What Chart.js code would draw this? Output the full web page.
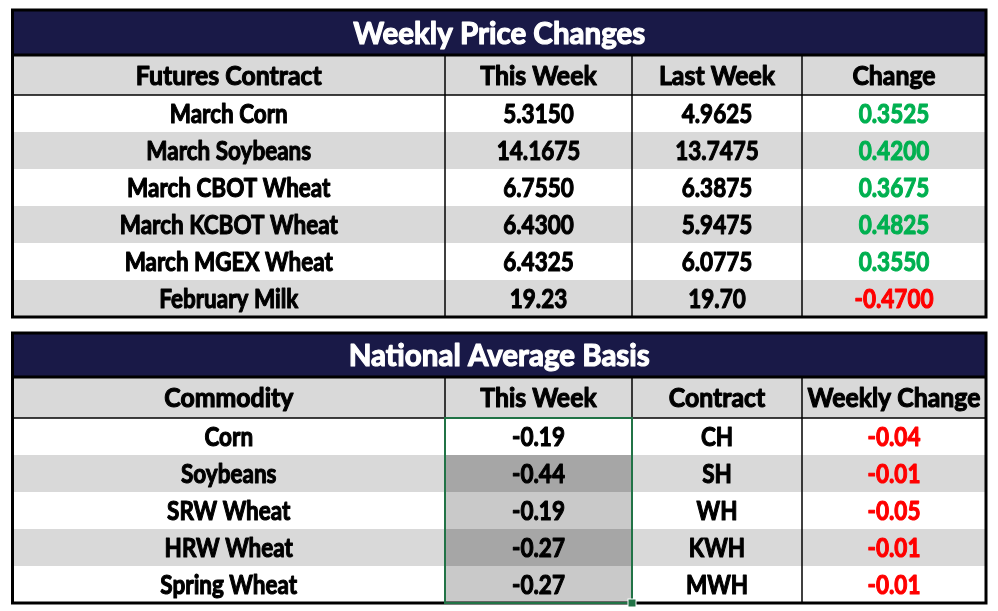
<!DOCTYPE html>
<html><head><meta charset="utf-8">
<script src="https://cdn.jsdelivr.net/npm/chart.js@4.4.1/dist/chart.umd.min.js"></script>
<style>html,body{margin:0;padding:0;background:#fff}#wrap{width:998px;height:611px;position:relative}</style>
</head><body><div id="wrap"><canvas id="c"></canvas></div>
<script>
// ---- data ----
const priceTitle = 'Weekly Price Changes';
const priceHeaders = ['Futures Contract', 'This Week', 'Last Week', 'Change'];
const priceContracts = ['March Corn', 'March Soybeans', 'March CBOT Wheat', 'March KCBOT Wheat', 'March MGEX Wheat', 'February Milk'];
const priceThisWeek = [5.3150, 14.1675, 6.7550, 6.4300, 6.4325, 19.23];
const priceLastWeek = [4.9625, 13.7475, 6.3875, 5.9475, 6.0775, 19.70];
const priceDecimals = [4, 4, 4, 4, 4, 2];
const priceChange = [0.3525, 0.4200, 0.3675, 0.4825, 0.3550, -0.4700];

const basisTitle = 'National Average Basis';
const basisHeaders = ['Commodity', 'This Week', 'Contract', 'Weekly Change'];
const basisCommodities = ['Corn', 'Soybeans', 'SRW Wheat', 'HRW Wheat', 'Spring Wheat'];
const basisThisWeek = [-0.19, -0.44, -0.19, -0.27, -0.27];
const basisContracts = ['CH', 'SH', 'WH', 'KWH', 'MWH'];
const basisChange = [-0.04, -0.01, -0.05, -0.01, -0.01];

// ---- layout & style (scale units) ----
const colEdges = [12.5, 445, 632, 802, 986];
const layout1 = { top: 10, titleH: 45, headerH: 40, rowH: 37 };
const layout2 = { top: 333, titleH: 44, headerH: 41, rowH: 37 };
const NAVY = '#191947', STRIPE = '#d9d9d9', GREEN = '#00b050', RED = '#ff0000', SEL = '#217346';
const basisShade = ['#ffffff', '#a6a6a6', '#c9c9c9', '#a6a6a6', '#c9c9c9'];
const FONT = 'Lato, "Open Sans", "Noto Sans", sans-serif';
const STYLES = {
  title: { size: 31, ref: 'Weekly Price Changes', w: 292, bold: 1.2 },
  head:  { size: 26, ref: 'Futures Contract', w: 186, bold: 1.1 },
  cell:  { size: 26, ref: 'March KCBOT Wheat', w: 218, bold: 1.1 }
};

const fmt = (v, d) => v.toFixed(d);
const table1Rows = priceContracts.map((c, i) => [
  { t: c }, { t: fmt(priceThisWeek[i], priceDecimals[i]) }, { t: fmt(priceLastWeek[i], priceDecimals[i]) },
  { t: fmt(priceChange[i], 4), color: priceChange[i] >= 0 ? GREEN : RED }
]);
const table2Rows = basisCommodities.map((c, i) => [
  { t: c }, { t: fmt(basisThisWeek[i], 2), fill: basisShade[i] }, { t: basisContracts[i] },
  { t: fmt(basisChange[i], 2), color: basisChange[i] >= 0 ? GREEN : RED }
]);

function setStyle(ctx, key) {
  const s = STYLES[key];
  ctx.font = `bold ${s.size}px ${FONT}`;
  if (!s.k) {
    s.k = s.w / ctx.measureText(s.ref).width;
    s.cap = ctx.measureText('H').actualBoundingBoxAscent;
  }
  return s;
}
function text(ctx, s, str, cx, cy, color) {
  ctx.save();
  ctx.translate(cx, cy + s.cap / 2);
  ctx.scale(s.k, 1);
  ctx.fillStyle = color; ctx.strokeStyle = color;
  ctx.lineWidth = s.bold; ctx.lineJoin = 'round';
  ctx.fillText(str, 0, 0);
  ctx.strokeText(str, 0, 0);
  ctx.restore();
}

function drawTable(chart, L, title, headers, rows, selectCol) {
  const ctx = chart.ctx, xs = chart.scales.x, ys = chart.scales.y;
  const X = v => xs.getPixelForValue(v), Y = v => ys.getPixelForValue(v);
  const x0 = X(colEdges[0]), x1 = X(colEdges[colEdges.length - 1]);
  const tTop = L.top, hTop = L.top + L.titleH, rTop = hTop + L.headerH;
  const bottom = rTop + rows.length * L.rowH;
  ctx.fillStyle = NAVY;
  ctx.fillRect(x0, Y(tTop), x1 - x0, Y(hTop) - Y(tTop));
  ctx.fillStyle = STRIPE;
  ctx.fillRect(x0, Y(hTop), x1 - x0, Y(rTop) - Y(hTop));
  rows.forEach((r, i) => {
    const a = Y(rTop + i * L.rowH), b = Y(rTop + (i + 1) * L.rowH);
    ctx.fillStyle = i % 2 === 0 ? '#ffffff' : STRIPE;
    ctx.fillRect(x0, a, x1 - x0, b - a);
    r.forEach((cell, j) => {
      if (cell.fill) {
        ctx.fillStyle = cell.fill;
        ctx.fillRect(X(colEdges[j]), a, X(colEdges[j + 1]) - X(colEdges[j]), b - a);
      }
    });
  });
  ctx.strokeStyle = '#000';
  ctx.lineWidth = 1.5;
  for (let j = 1; j < colEdges.length - 1; j++) {
    ctx.beginPath(); ctx.moveTo(X(colEdges[j]), Y(hTop)); ctx.lineTo(X(colEdges[j]), Y(bottom)); ctx.stroke();
  }
  ctx.beginPath(); ctx.moveTo(x0, Y(rTop)); ctx.lineTo(x1, Y(rTop)); ctx.stroke();
  ctx.lineWidth = 3;
  ctx.beginPath(); ctx.moveTo(x0, Y(hTop)); ctx.lineTo(x1, Y(hTop)); ctx.stroke();
  ctx.strokeRect(x0, Y(tTop), x1 - x0, Y(bottom) - Y(tTop));
  if (selectCol != null) {
    const sx0 = X(colEdges[selectCol]), sx1 = X(colEdges[selectCol + 1]);
    ctx.strokeStyle = SEL; ctx.lineWidth = 2;
    ctx.strokeRect(sx0, Y(rTop), sx1 - sx0, Y(bottom) - Y(rTop));
    ctx.fillStyle = '#ffffff';
    ctx.fillRect(sx1 - 4.5, Y(bottom) - 4.5, 9, 9);
    ctx.fillStyle = SEL;
    ctx.fillRect(sx1 - 3.5, Y(bottom) - 3.5, 7, 7);
  }
  ctx.textAlign = 'center'; ctx.textBaseline = 'alphabetic';
  let s = setStyle(ctx, 'title');
  text(ctx, s, title, (x0 + x1) / 2, (Y(tTop) + Y(hTop)) / 2, '#ffffff');
  s = setStyle(ctx, 'head');
  headers.forEach((h, j) => {
    text(ctx, s, h, (X(colEdges[j]) + X(colEdges[j + 1])) / 2, (Y(hTop) + Y(rTop)) / 2, '#000');
  });
  s = setStyle(ctx, 'cell');
  rows.forEach((r, i) => {
    const cy = (Y(rTop + i * L.rowH) + Y(rTop + (i + 1) * L.rowH)) / 2;
    r.forEach((cell, j) => {
      text(ctx, s, cell.t, (X(colEdges[j]) + X(colEdges[j + 1])) / 2, cy, cell.color || '#000');
    });
  });
}

const tablePlugin = {
  id: 'tables',
  beforeDatasetsDraw(chart) {
    drawTable(chart, layout1, priceTitle, priceHeaders, table1Rows, null);
    drawTable(chart, layout2, basisTitle, basisHeaders, table2Rows, 1);
  }
};

new Chart(document.getElementById('c'), {
  type: 'scatter',
  data: { datasets: [] },
  options: {
    responsive: true, maintainAspectRatio: false, animation: false,
    layout: { padding: 0 },
    plugins: { legend: { display: false }, tooltip: { enabled: false } },
    scales: {
      x: { type: 'linear', min: 0, max: 998, display: false },
      y: { type: 'linear', min: 0, max: 611, reverse: true, display: false }
    }
  },
  plugins: [tablePlugin]
});
</script></body></html>
